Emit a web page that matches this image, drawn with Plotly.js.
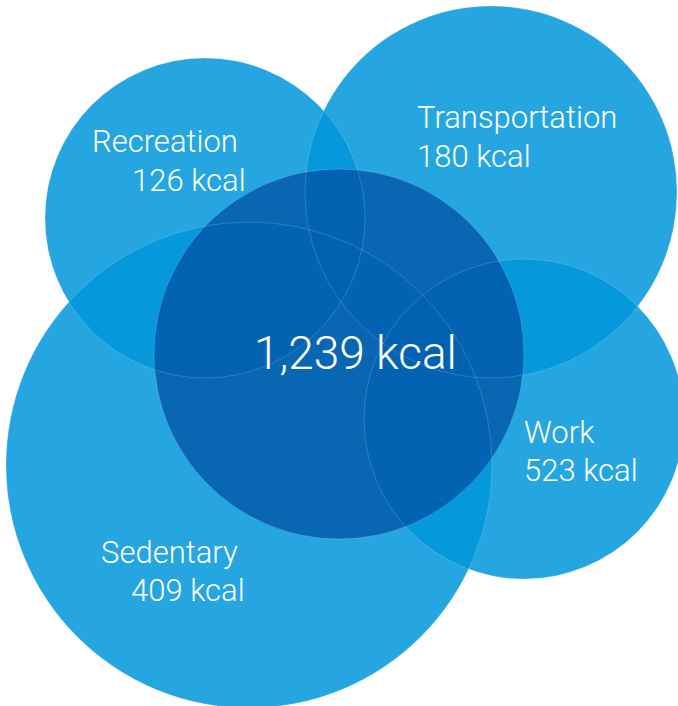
<!DOCTYPE html>
<html>
<head>
<meta charset="utf-8">
<script src="https://cdn.plot.ly/plotly-3.0.1.min.js"></script>
<style>html,body{margin:0;padding:0;background:#fff;}#chart{width:678px;height:706px;}</style>
</head>
<body>
<div id="chart"></div>
<script>
// ---- data ----
const categories = ['Recreation', 'Transportation', 'Work', 'Sedentary'];
const values = [126, 180, 523, 409];
const totalValue = 1239;
const unit = 'kcal';

// ---- geometry (pixel-like data coordinates) ----
const circleX = [205, 491, 524, 249];
const circleY = [218, 192, 419, 465];
const circleR = [160, 186, 160, 243];
const centerCircle = {x: 339, y: 354, r: 185};
const nameX = [90, 415, 522, 99];
const nameY = [141, 117, 432, 552];
const valueX = [130, 415, 522, 129];
const valueY = [180, 156, 470, 590];
const totalX = 355, totalY = 353;

// ---- styles ----
const outerFill = 'rgb(0,150,218)';
const outerOpacity = 0.85;
const centerFill = 'rgba(0,80,162,0.74)';
const edgeLine = 'rgba(255,255,255,0.28)';
const fontFamily = 'Roboto, "Liberation Sans", Arial, sans-serif';
const labelSize = 31, totalSize = 46;

const shapes = [];
categories.forEach((c, i) => {
  shapes.push({
    type: 'circle', xref: 'x', yref: 'y',
    x0: circleX[i] - circleR[i], x1: circleX[i] + circleR[i],
    y0: circleY[i] - circleR[i], y1: circleY[i] + circleR[i],
    fillcolor: outerFill, opacity: outerOpacity,
    line: {width: 0}, layer: 'above'
  });
});
shapes.push({
  type: 'circle', xref: 'x', yref: 'y',
  x0: centerCircle.x - centerCircle.r, x1: centerCircle.x + centerCircle.r,
  y0: centerCircle.y - centerCircle.r, y1: centerCircle.y + centerCircle.r,
  fillcolor: centerFill, line: {width: 0}, layer: 'above'
});
// thin edge lines
categories.forEach((c, i) => {
  shapes.push({
    type: 'circle', xref: 'x', yref: 'y',
    x0: circleX[i] - circleR[i], x1: circleX[i] + circleR[i],
    y0: circleY[i] - circleR[i], y1: circleY[i] + circleR[i],
    fillcolor: 'rgba(0,0,0,0)', line: {width: 0.6, color: edgeLine}, layer: 'above'
  });
});
shapes.push({
  type: 'circle', xref: 'x', yref: 'y',
  x0: centerCircle.x - centerCircle.r, x1: centerCircle.x + centerCircle.r,
  y0: centerCircle.y - centerCircle.r, y1: centerCircle.y + centerCircle.r,
  fillcolor: 'rgba(0,0,0,0)', line: {width: 0.6, color: edgeLine}, layer: 'above'
});

const annotations = [];
categories.forEach((c, i) => {
  annotations.push({
    x: nameX[i], y: nameY[i], xref: 'x', yref: 'y', text: c,
    showarrow: false, xanchor: 'left', yanchor: 'middle',
    font: {family: fontFamily, size: labelSize, color: '#ffffff', weight: 300}
  });
  annotations.push({
    x: valueX[i], y: valueY[i], xref: 'x', yref: 'y',
    text: values[i].toLocaleString('en-US') + ' ' + unit,
    showarrow: false, xanchor: 'left', yanchor: 'middle',
    font: {family: fontFamily, size: labelSize, color: '#ffffff', weight: 300}
  });
});
annotations.push({
  x: totalX, y: totalY, xref: 'x', yref: 'y',
  text: totalValue.toLocaleString('en-US') + ' ' + unit,
  showarrow: false, xanchor: 'center', yanchor: 'middle',
  font: {family: fontFamily, size: totalSize, color: '#ffffff', weight: 300}
});

const layout = {
  width: 678, height: 706,
  margin: {l: 0, r: 0, t: 0, b: 0, pad: 0},
  paper_bgcolor: '#ffffff', plot_bgcolor: '#ffffff',
  xaxis: {range: [0, 678], visible: false, fixedrange: true},
  yaxis: {range: [706, 0], visible: false, fixedrange: true},
  shapes: shapes, annotations: annotations, showlegend: false
};

Plotly.newPlot('chart', [{x: [], y: [], type: 'scatter', mode: 'markers', hoverinfo: 'skip'}], layout, {displayModeBar: false, staticPlot: true});
</script>
</body>
</html>
